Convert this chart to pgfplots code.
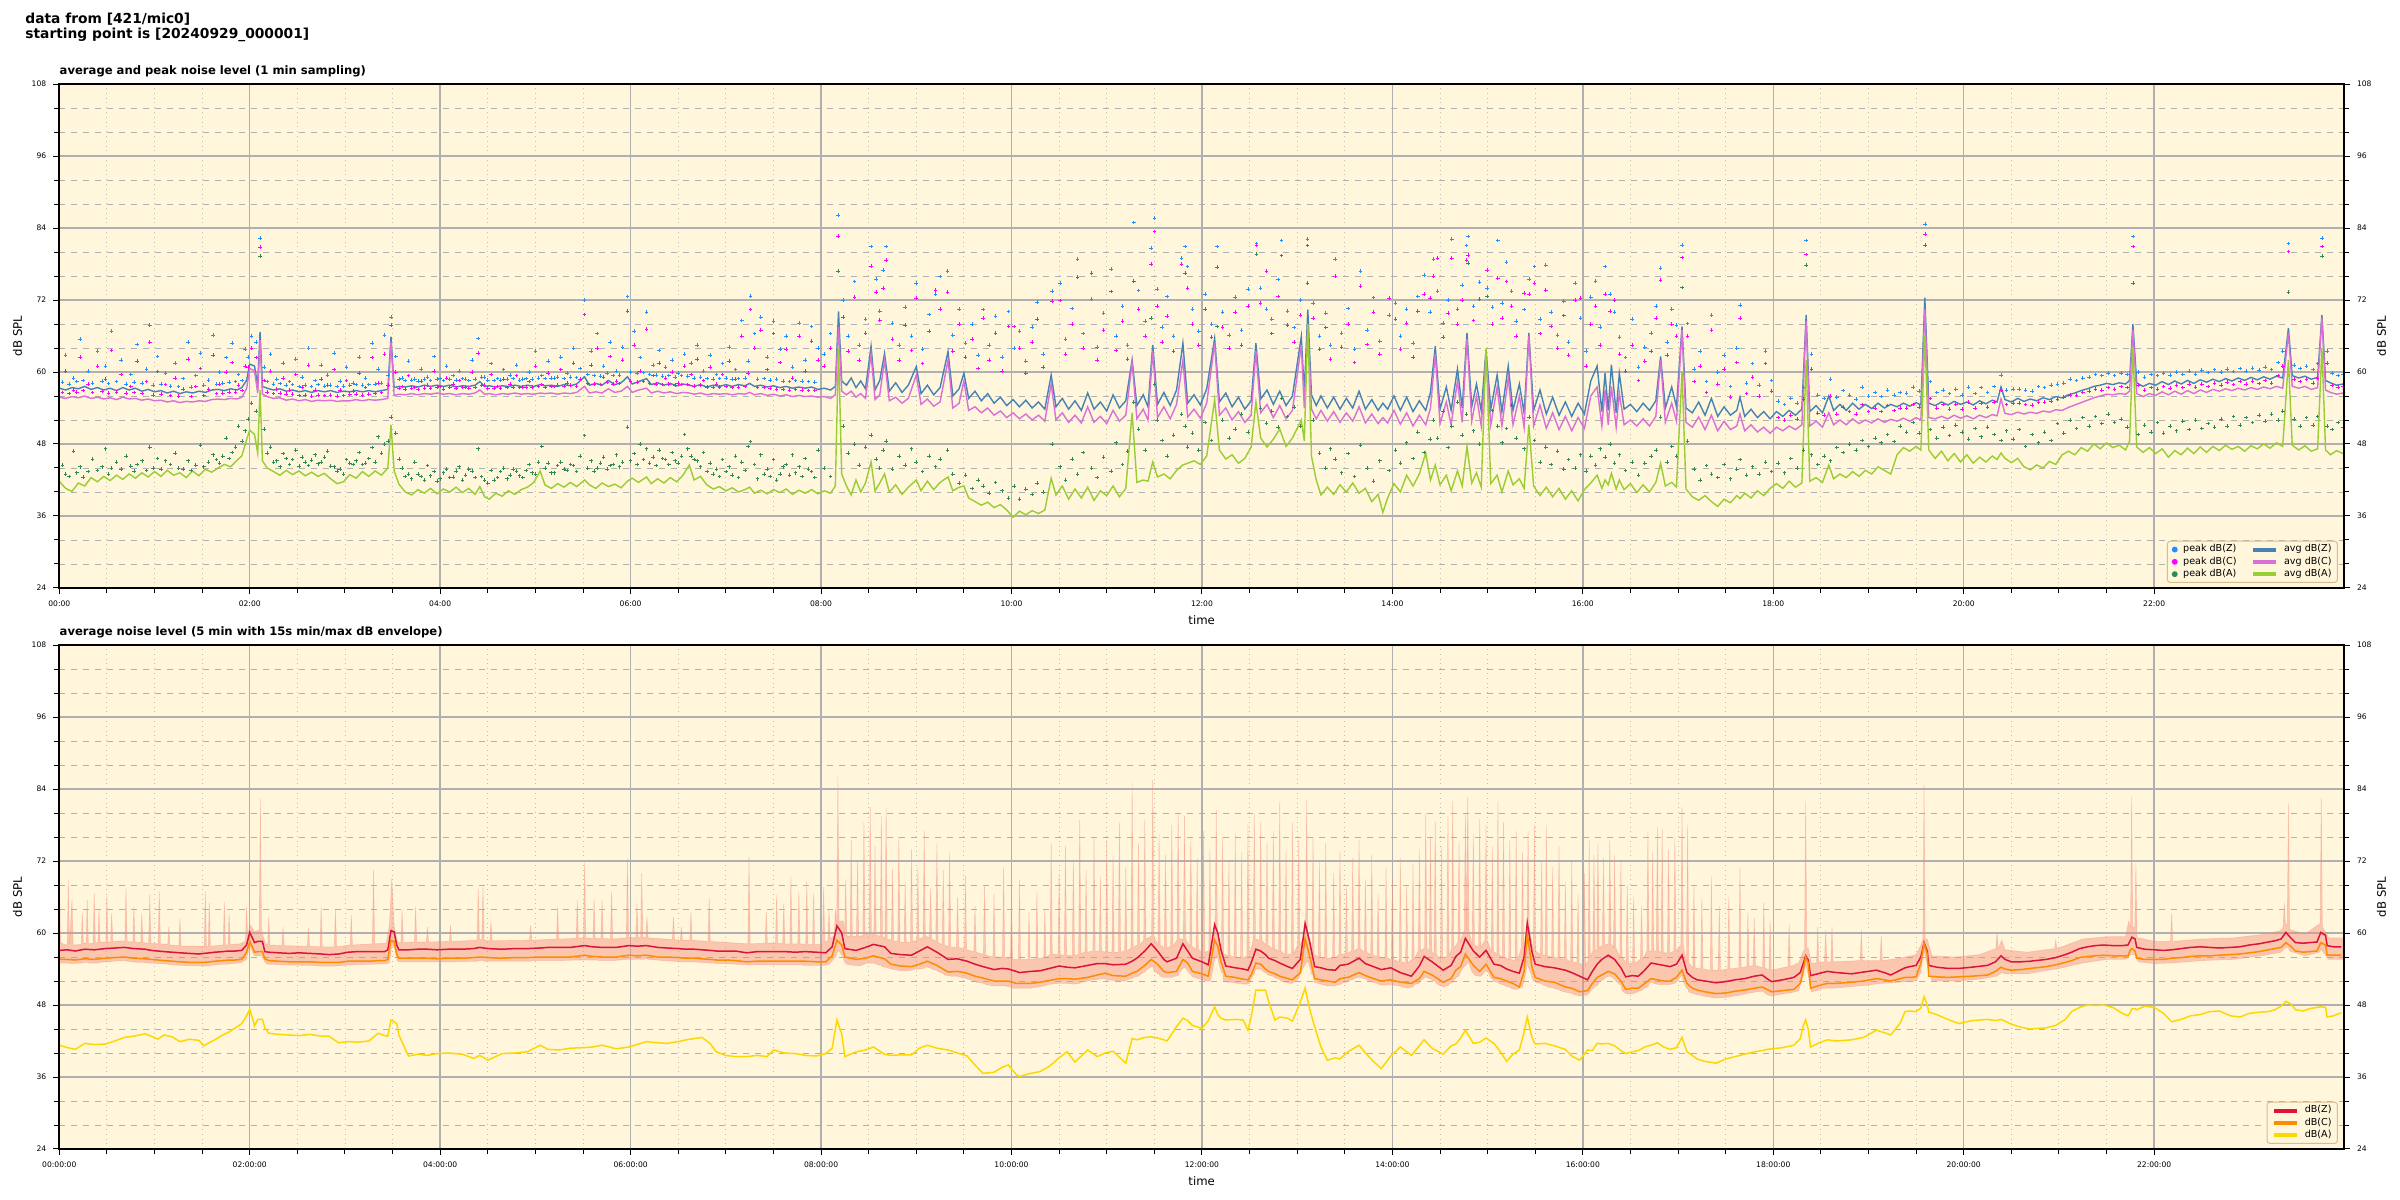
\documentclass[border=0pt]{standalone}
\usepackage{fontspec}
\setmainfont{DejaVu Sans}
\usepackage{pgfplots}
\usepackage{pgfplotstable}
\pgfplotsset{compat=1.18}

\definecolor{bgc}{RGB}{255,246,220}
\definecolor{gridc}{RGB}{176,176,176}
\definecolor{mgridc}{RGB}{195,190,178}
\definecolor{cPZ}{RGB}{30,144,255}
\definecolor{cPC}{RGB}{255,0,255}
\definecolor{cPA}{RGB}{46,139,87}
\definecolor{cAZ}{RGB}{70,130,180}
\definecolor{cAC}{RGB}{218,112,214}
\definecolor{cAA}{RGB}{154,205,50}
\definecolor{cZ}{RGB}{220,20,60}
\definecolor{cC}{RGB}{255,140,0}
\definecolor{cA}{RGB}{255,215,0}
\definecolor{cEnv}{RGB}{245,140,120}
\definecolor{legedge}{RGB}{215,190,140}

% top panel: 1-min average levels (thinned)
\pgfplotstableread{
t z c a
0 57.3 55.8 41.8
4 57.0 55.6 40.6
8 57.4 55.9 40.1
12 57.2 55.7 41.5
16 57.6 56.0 41.0
20 57.1 55.6 42.4
24 57.4 55.8 41.7
28 57.0 55.5 42.6
32 57.3 55.7 41.9
36 56.9 55.4 42.8
40 57.4 55.8 42.1
44 57.0 55.5 43.0
48 57.3 55.6 42.3
52 56.8 55.3 43.2
56 57.1 55.5 42.5
60 56.7 55.2 43.4
64 56.9 55.3 42.6
68 56.5 55.0 43.6
72 56.8 55.2 42.8
76 56.4 54.9 43.2
80 56.7 55.1 42.4
84 56.5 55.0 43.5
88 56.8 55.2 42.7
92 56.6 55.1 43.8
96 57.0 55.4 43.3
100 57.1 55.5 44.0
104 56.9 55.4 44.6
108 57.2 55.6 44.2
112 57.0 55.5 45.3
115 57.4 55.8 46.0
118 58.6 57.2 48.7
120 61.3 60.6 50.3
123 61.0 60.2 49.6
125 57.8 56.5 46.5
126.5 66.7 65.3 57.0
128 57.6 56.3 45.2
131 57.3 55.9 44.0
135 57.0 55.6 43.4
139 57.2 55.7 42.8
143 56.8 55.3 43.6
147 57.0 55.5 42.9
151 56.7 55.2 43.5
155 56.9 55.4 42.7
159 56.6 55.1 43.3
163 56.9 55.3 42.6
167 56.7 55.2 43.1
171 56.9 55.3 42.2
175 56.6 55.1 41.4
179 56.8 55.2 41.7
183 56.7 55.2 42.9
187 56.9 55.4 42.3
191 56.7 55.2 43.4
195 56.9 55.4 42.6
199 56.7 55.3 43.5
203 56.9 55.4 42.8
207 57.1 55.6 44.0
209 65.9 65.0 51.2
211 57.4 56.1 43.5
214 57.6 56.3 41.3
218 57.5 56.2 40.0
222 57.7 56.4 39.5
226 57.5 56.2 40.4
230 57.8 56.4 39.8
234 57.6 56.3 40.6
238 57.8 56.5 39.7
242 57.6 56.3 40.5
246 57.8 56.4 40.0
250 57.5 56.2 40.8
254 57.7 56.4 39.9
258 57.6 56.3 40.6
262 57.8 56.5 39.6
265 58.4 57.0 40.9
268 57.6 56.3 39.2
271 57.7 56.4 38.8
275 57.5 56.2 39.8
279 57.7 56.4 39.3
283 57.6 56.3 40.2
287 57.8 56.5 39.6
291 57.6 56.3 40.4
295 57.8 56.4 40.8
299 57.6 56.3 41.6
303 57.9 56.5 43.5
306 57.7 56.4 41.2
310 57.8 56.5 40.6
314 57.6 56.3 41.4
318 57.9 56.5 40.8
322 57.7 56.4 41.6
326 58.0 56.6 40.9
331 59.2 57.6 42.0
334 57.8 56.5 41.2
338 58.1 56.7 40.6
342 57.8 56.5 41.5
346 58.6 57.2 40.9
350 57.9 56.6 41.3
354 58.2 56.8 40.7
358 59.2 57.6 41.8
361 58.0 56.6 42.3
365 58.4 57.0 41.6
370 58.9 57.3 42.5
373 57.9 56.5 41.4
377 58.2 56.8 42.2
381 57.8 56.5 41.5
385 58.1 56.7 42.4
389 57.7 56.4 41.7
393 58.0 56.6 42.8
397 57.8 56.5 44.5
400 57.6 56.3 42.0
404 57.9 56.5 42.6
408 57.5 56.2 41.2
412 57.8 56.4 40.5
416 57.6 56.3 40.9
420 57.9 56.4 40.2
424 57.6 56.2 40.7
428 57.9 56.4 40.0
432 57.7 56.3 40.4
435 58.1 56.6 40.8
438 57.6 56.2 39.8
442 57.8 56.4 40.3
446 57.5 56.1 39.7
450 57.7 56.3 40.4
454 57.4 56.0 39.9
458 57.6 56.2 40.5
462 57.3 55.9 39.6
466 57.5 56.1 40.3
470 57.3 55.9 39.8
474 57.5 56.0 40.4
478 57.1 55.8 39.7
482 57.3 55.9 40.2
486 57.0 55.6 39.8
489 57.6 56.2 41.0
491 70.1 67.6 64.0
493 58.5 56.8 43.0
496 57.8 56.2 41.0
499 59.0 56.8 39.5
502 57.4 55.8 42.0
505 58.5 56.4 40.0
508 57.2 55.6 41.5
511.5 64.3 63.0 45.0
514 57.0 55.4 40.2
517 58.6 56.2 41.5
520 63.1 62.0 43.0
523 56.8 55.2 40.0
527 58.2 55.8 41.2
531 56.6 54.8 39.6
535 57.8 55.6 40.8
540 60.9 59.5 42.0
543 56.4 54.6 40.2
547 57.8 55.5 41.8
551 56.2 54.3 40.4
555 57.4 55.0 41.6
560 63.4 62.0 42.5
563 56.0 54.0 40.2
567 57.2 54.8 40.8
570 59.8 58.5 41.0
573 55.6 53.6 39.0
577 56.8 54.2 38.4
581 55.2 53.2 37.8
585 56.4 54.0 38.3
589 54.8 52.8 37.4
593 55.8 53.5 37.9
597 54.4 52.4 37.0
601 55.4 53.2 35.8
605 54.2 52.2 36.8
609 55.3 53.0 36.2
613 54.0 52.0 36.9
617 55.0 52.8 36.4
621 53.8 51.8 37.0
625 59.5 58.0 42.3
628 54.2 52.0 39.5
632 55.6 53.2 41.0
636 53.8 51.6 38.8
640 55.2 52.8 40.5
644 53.6 51.5 39.0
648 56.5 54.2 40.8
652 53.8 51.6 38.6
656 55.0 52.6 40.2
660 53.5 51.4 39.4
664 56.2 53.6 41.0
668 54.0 51.8 39.2
672 55.2 52.8 40.6
676 62.0 61.5 53.2
679 54.4 52.2 41.6
683 56.2 53.8 42.0
686 54.2 52.0 41.8
689 64.5 63.5 45.0
692 54.6 52.4 42.5
696 56.6 54.2 43.0
700 54.4 52.2 42.2
704 57.0 54.6 43.6
708 64.8 62.0 44.5
711 54.8 52.5 44.8
715 56.2 53.8 45.2
719 54.5 52.3 44.6
723 57.2 54.8 46.0
728 65.6 64.8 55.4
731 55.0 52.8 47.0
735 56.5 54.0 45.5
739 54.2 52.0 46.2
743 55.8 53.4 44.8
747 53.8 51.6 45.6
751 55.2 52.8 47.5
754 64.8 63.5 55.0
757 55.5 53.2 49.0
761 57.0 54.6 47.5
765 54.6 52.4 48.8
769 56.8 54.4 50.5
773 54.4 52.2 47.6
777 56.0 53.6 49.0
782.6 65.9 64.5 52.0
784.5 56.5 54.0 48.5
786.7 70.4 67.6 68.0
789 56.2 53.8 46.0
792 54.4 52.2 42.0
795 56.0 53.6 39.5
799 54.0 51.8 40.8
803 55.8 53.4 39.6
807 53.8 51.6 41.2
811 55.6 53.2 40.0
815 54.0 51.8 41.5
819 56.8 54.2 39.8
823 53.8 51.5 40.6
827 55.4 53.0 38.4
831 53.6 51.4 39.6
834 54.8 52.4 36.6
837 53.8 51.5 39.0
841 56.0 53.6 41.4
845 53.6 51.3 40.0
849 55.8 53.2 42.8
853 53.4 51.0 41.0
857 55.2 52.8 43.0
861 53.6 51.2 46.5
864 56.6 54.0 42.0
867 64.3 63.0 44.5
870 53.8 51.4 41.2
874 57.5 55.0 42.8
877 53.6 51.2 40.2
881 60.5 58.5 43.5
884 54.0 51.6 41.0
887 66.5 65.5 47.6
890 54.2 51.8 41.5
893 58.0 56.0 43.2
896 53.5 51.0 40.8
899 63.7 62.5 64.0
902 53.8 51.2 41.4
906 59.5 57.5 42.8
909 53.4 51.0 40.0
913 61.0 59.0 43.5
916 53.6 51.2 41.2
920 58.0 56.0 42.2
923 53.2 50.8 40.6
926 66.5 66.0 51.2
929 53.6 51.0 41.0
933 57.0 54.5 39.4
937 53.0 50.6 40.8
941 55.8 53.2 39.2
945 52.8 50.4 40.6
949 55.0 52.6 38.8
953 52.6 50.2 40.2
957 54.8 52.4 38.5
961 53.0 50.6 40.4
965 58.5 56.0 41.5
969 61.0 57.5 42.8
972 53.4 51.0 40.6
974 59.8 57.0 42.0
976 53.6 51.2 41.2
978 61.2 57.6 43.1
981 53.2 50.8 40.5
983 59.8 56.5 42.0
986 53.8 51.2 40.4
990 54.6 52.0 41.4
994 53.4 51.0 39.9
998 54.8 52.2 41.2
1002 53.6 51.0 40.0
1006 55.2 52.6 41.6
1009 62.6 62.0 44.8
1012 54.0 51.6 41.0
1016 57.5 54.8 41.6
1019 54.2 51.8 40.8
1022.5 67.6 67.0 60.0
1025 54.0 51.6 40.5
1029 53.2 50.8 39.2
1033 55.0 52.5 38.6
1037 52.8 50.4 39.4
1041 55.6 52.8 38.4
1045 52.6 50.2 37.6
1049 54.2 51.8 38.8
1053 52.8 50.4 38.2
1057 53.6 51.0 39.4
1059 55.8 53.0 38.9
1062 52.6 50.2 39.8
1066 53.8 51.2 39.0
1070 52.4 50.0 40.2
1074 53.4 50.8 39.4
1078 52.2 49.8 40.6
1082 53.4 50.8 41.4
1086 52.6 50.2 40.6
1090 53.6 51.0 41.8
1094 52.8 50.4 40.8
1098 53.8 51.2 41.5
1100.7 69.5 68.5 62.0
1103 53.4 51.0 41.8
1107 54.4 51.8 42.4
1111 53.2 50.8 41.6
1115 56.0 53.2 44.5
1118 53.6 51.2 42.2
1122 54.6 52.0 43.0
1126 53.6 51.2 42.4
1130 54.8 52.2 43.4
1134 53.8 51.4 42.6
1138 54.6 52.0 43.6
1142 53.9 51.5 43.0
1146 54.8 52.2 44.2
1150 54.0 51.6 43.6
1154 54.6 52.1 43.0
1158 54.2 51.8 46.2
1162 54.8 52.3 47.4
1166 54.3 51.8 46.8
1170 54.9 52.4 47.6
1173 54.5 52.0 47.0
1175.5 72.4 70.5 66.0
1178 54.8 52.4 47.0
1182 54.4 52.2 45.6
1186 55.0 52.6 46.8
1190 54.5 52.2 45.2
1194 55.1 52.8 46.4
1198 54.6 52.3 45.0
1202 55.0 52.7 46.2
1206 54.5 52.2 44.8
1210 55.2 52.8 45.8
1214 54.7 52.4 45.0
1218 55.3 52.9 46.0
1221 55.0 52.7 45.4
1223.5 57.5 55.5 46.5
1226 55.4 53.1 45.6
1230 55.0 52.9 44.9
1234 55.6 53.3 45.6
1238 55.1 53.0 44.2
1242 55.5 53.3 43.7
1246 55.2 53.1 44.5
1250 55.7 53.5 44.0
1254 55.4 53.3 45.1
1258 55.9 53.7 44.6
1262 55.7 53.6 46.2
1266 56.2 54.1 46.8
1270 56.5 54.5 46.2
1274 56.9 54.9 47.4
1278 57.2 55.3 46.8
1282 57.6 55.7 48.0
1286 57.8 56.0 47.2
1290 58.1 56.3 48.2
1294 57.9 56.2 47.4
1298 58.2 56.4 47.8
1302 58.0 56.3 47.0
1304.5 58.6 56.8 48.5
1306.6 68.0 67.0 64.0
1309 58.2 56.4 47.5
1313 57.6 55.9 46.6
1317 58.1 56.4 47.4
1321 57.8 56.1 46.4
1325 58.4 56.7 47.2
1329 57.9 56.2 45.8
1333 58.5 56.8 46.9
1337 58.0 56.3 46.2
1341 58.6 56.9 47.3
1345 58.1 56.4 46.4
1349 58.7 57.0 47.5
1353 58.3 56.6 46.6
1357 58.8 57.1 47.6
1361 58.4 56.8 46.9
1365 58.9 57.2 47.8
1369 58.5 56.9 47.1
1373 59.0 57.3 47.6
1377 58.6 57.0 46.8
1381 59.1 57.4 47.7
1385 58.7 57.1 47.2
1389 59.2 57.5 48.0
1393 58.8 57.2 47.3
1397 59.3 57.6 48.2
1401 59.0 57.3 47.6
1404.6 67.3 66.5 62.0
1407 59.4 57.6 47.8
1411 59.0 57.3 47.0
1415 59.3 57.6 47.7
1419 58.8 57.1 46.8
1423 59.1 57.4 47.2
1425.7 69.5 69.0 64.0
1428 58.6 57.0 47.0
1431 58.2 56.6 46.2
1435 57.8 56.3 46.9
1439 58.0 56.5 46.4
}\topavg

% top panel: 1-min peak levels (subset)
\pgfplotstableread{
t pz pc pa
2 58.3 56.6 44.5
4 62.8 60.2 43.0
6 58.0 56.4 42.6
9 59.0 57.0 46.8
11 58.4 56.7 43.2
13 65.5 62.5 44.2
15 58.6 56.9 42.5
18 60.2 58.0 43.4
21 58.2 56.6 45.5
24 63.5 61.0 43.6
27 58.5 56.8 44.2
29 61.0 58.8 47.2
31 58.1 56.5 43.0
33 66.8 63.6 44.0
36 58.4 56.7 45.0
39 62.0 59.6 43.8
42 58.0 56.5 46.0
45 59.6 57.6 44.3
47 58.3 56.6 43.5
49 64.6 61.8 44.6
52 58.2 56.4 45.2
55 60.5 58.4 43.6
57 67.8 65.0 47.5
59 57.8 56.2 44.0
62 62.6 60.1 45.6
64 58.0 56.3 43.8
67 59.8 57.9 45.2
70 57.7 56.1 44.6
73 61.5 59.0 46.5
75 57.6 56.0 44.0
78 58.9 57.2 43.8
81 65.0 62.2 45.2
83 57.5 55.9 43.6
86 59.4 57.6 44.5
89 63.2 60.6 47.8
91 57.8 56.1 44.2
94 58.7 57.2 45.0
97 66.2 62.8 46.2
99 58.0 56.4 45.4
101 60.0 58.0 44.8
103 58.2 56.5 46.0
105 62.4 60.0 49.0
107 58.3 56.7 45.6
109 64.8 61.6 46.6
111 58.4 56.7 47.5
113 59.6 57.8 51.0
115 58.6 56.9 48.5
117 63.8 61.0 50.2
119 62.5 60.8 52.2
121 66.0 64.0 54.8
124 65.0 62.4 53.5
126.5 82.3 80.8 79.3
129 60.8 58.6 50.5
131 58.4 56.7 46.5
133 63.0 60.2 47.5
135 58.0 56.4 45.0
137 58.8 57.2 45.2
139 58.1 56.5 44.2
141 61.5 59.0 46.4
143 57.8 56.3 45.6
145 58.4 57.0 44.6
147 57.9 56.3 45.4
149 62.2 59.6 47.0
151 57.6 56.1 44.3
153 59.2 57.5 45.8
155 57.8 56.2 45.0
157 64.0 61.2 44.4
159 57.6 56.0 45.3
161 58.6 57.0 46.2
163 57.9 56.2 44.7
165 61.2 58.8 45.0
167 57.7 56.1 45.8
169 59.5 57.8 46.8
171 57.8 56.2 44.3
173 63.2 60.4 44.2
175 57.6 56.0 43.5
177 58.5 57.0 43.8
179 57.7 56.1 43.0
181 60.8 58.6 45.4
183 57.8 56.3 44.8
185 58.2 56.8 44.6
187 57.9 56.3 45.2
189 62.5 59.8 46.6
191 57.8 56.2 44.6
193 59.0 57.4 44.8
195 57.9 56.3 45.6
197 64.8 62.4 47.4
199 58.0 56.4 45.0
201 60.5 58.2 49.2
203 58.2 56.6 46.5
205 66.2 63.0 48.0
207 59.5 57.8 48.5
209 69.2 67.8 52.5
212 62.6 60.0 49.8
214 58.8 57.3 45.5
216 59.0 57.6 44.0
218 58.6 57.2 42.6
220 61.8 59.4 43.0
222 58.7 57.3 42.2
224 58.8 57.4 45.0
226 58.5 57.1 43.0
228 60.5 58.5 42.6
230 58.8 57.3 42.0
232 59.2 57.8 44.4
234 58.6 57.3 42.7
236 62.6 60.2 43.4
238 58.8 57.4 41.8
240 58.9 57.6 42.2
242 58.6 57.2 43.2
244 61.0 59.0 43.8
246 58.8 57.4 42.4
248 59.4 58.0 42.5
250 58.7 57.3 43.5
252 60.2 58.6 44.2
254 58.9 57.5 42.0
256 58.8 57.5 42.8
258 58.6 57.3 43.8
260 62.0 60.0 43.5
262 58.8 57.4 42.4
264 65.6 63.2 47.2
266 59.2 57.8 42.6
268 59.2 57.8 42.0
270 58.7 57.3 41.5
272 61.4 59.6 43.6
274 58.6 57.3 42.0
276 58.9 57.6 42.4
278 58.7 57.3 43.4
280 60.4 58.8 44.0
282 58.8 57.4 42.2
284 59.5 58.0 42.8
286 58.9 57.5 43.8
288 61.2 59.4 43.5
290 58.7 57.4 42.7
292 58.8 57.5 42.4
294 58.9 57.5 43.6
296 60.0 58.4 44.6
298 58.8 57.5 43.2
300 63.5 61.0 43.0
302 59.0 57.6 45.0
304 59.4 57.9 47.6
306 58.9 57.5 44.0
308 61.8 59.8 44.8
310 59.0 57.6 43.2
312 59.0 57.6 43.2
314 59.2 57.8 44.4
316 62.5 60.4 45.0
318 58.9 57.6 43.8
320 59.8 58.2 43.6
322 59.2 57.8 44.6
324 64.0 61.5 44.4
326 59.1 57.7 43.4
328 60.6 58.8 46.0
331 72.0 69.6 49.4
333 59.6 58.2 44.0
335 63.5 61.2 45.2
337 59.4 58.0 43.5
339 66.4 64.0 44.0
341 59.3 57.9 44.8
343 61.0 59.2 45.8
345 59.8 58.3 43.8
347 65.0 62.6 44.4
349 59.4 58.0 44.6
351 60.2 58.5 46.2
353 59.5 58.1 44.2
355 64.2 62.0 45.0
358 72.6 70.2 50.8
360 60.0 58.5 45.2
362 66.8 64.5 46.4
364 59.8 58.3 44.6
366 62.4 60.2 48.0
368 59.9 58.4 45.4
370 70.0 67.2 47.2
372 59.6 58.2 44.8
374 61.2 59.4 45.8
376 59.5 58.0 44.4
378 63.6 61.5 47.0
380 59.3 57.9 45.6
382 60.8 59.0 45.4
384 59.4 58.0 44.6
386 62.0 60.0 46.6
388 59.2 57.8 45.2
390 59.8 58.2 44.8
392 59.4 57.9 46.0
394 63.0 61.0 49.6
396 59.3 57.9 47.2
398 61.5 59.6 46.0
400 59.0 57.7 45.4
402 64.5 62.2 45.2
404 59.2 57.8 44.2
406 60.2 58.6 46.6
408 58.9 57.5 43.4
410 62.8 60.8 44.8
412 58.8 57.4 43.0
414 59.6 58.0 43.8
416 58.9 57.5 42.6
418 61.4 59.6 45.4
420 59.0 57.6 43.4
422 64.2 61.8 44.2
424 58.8 57.4 42.8
426 60.4 58.8 46.0
428 58.9 57.5 42.4
430 68.6 66.0 45.0
432 59.0 57.6 43.6
434 61.8 59.8 47.6
435.5 72.7 70.4 48.4
438 66.4 64.0 44.6
440 58.8 57.4 42.2
442 69.2 67.0 46.2
444 58.9 57.4 43.0
446 62.5 60.4 43.8
448 58.7 57.3 42.6
450 68.5 66.4 45.4
452 58.8 57.2 42.0
454 63.8 61.6 43.0
456 58.5 57.1 44.2
458 66.0 63.8 44.6
460 58.4 57.0 42.8
462 60.8 59.0 46.2
464 58.6 57.1 43.2
466 68.2 66.0 44.2
468 58.5 57.0 42.6
470 62.0 60.2 45.6
472 58.4 56.9 43.8
474 67.6 65.2 43.4
476 58.3 56.9 42.4
478 64.0 62.0 47.0
482 63.0 61.0 44.0
486 66.4 64.0 42.6
490.6 86.2 82.7 76.8
494 72.0 69.2 51.0
497 66.0 63.5 46.5
501 75.1 72.5 48.0
504 64.5 62.0 44.5
508 68.8 66.5 47.5
511.5 80.9 77.7 49.5
514.7 75.5 73.3 45.5
517 70.2 68.7 44.0
519 77.0 74.0 47.0
521 80.9 78.7 48.5
525 68.2 65.5 43.8
529 64.5 62.0 46.0
533 70.8 67.8 44.5
537 66.0 63.6 47.2
540 74.8 72.3 45.0
544 63.8 61.4 43.4
548 69.6 66.8 46.0
552 73.0 73.7 44.2
555 75.9 70.5 45.5
559.7 76.8 73.3 47.0
563 66.2 63.5 43.0
567 70.5 68.0 41.5
571 64.8 62.5 42.8
575 68.0 65.5 40.6
579 62.8 60.6 42.0
582 70.4 69.0 41.0
586 64.5 62.0 39.8
590 69.3 66.5 41.6
594 62.5 60.2 40.2
598 70.1 67.6 39.0
601.5 64.0 67.6 41.0
605 66.8 64.0 38.8
609 61.8 59.8 40.5
613 67.5 65.0 39.6
616 71.7 68.8 41.5
620 63.0 60.8 40.0
625.6 73.5 71.8 48.0
630.5 74.8 71.9 44.2
634 65.5 63.0 42.0
638 70.6 68.0 45.5
641.7 78.8 75.8 43.0
645 66.4 64.0 46.6
650.4 72.2 76.5 44.0
654 64.2 62.0 42.4
658 69.8 67.0 45.8
662.6 77.2 73.4 43.5
666 66.0 63.6 48.2
670 71.0 68.5 44.6
673 64.5 62.2 46.8
677 84.9 75.2 55.0
680 73.6 70.5 50.5
684 68.5 66.0 47.0
688 80.7 78.0 69.0
690 85.7 83.4 58.0
691.6 73.8 71.0 52.0
695 67.5 65.0 48.6
698 72.6 69.3 46.0
702 66.0 63.5 49.5
707 79.0 78.0 53.0
709.3 80.9 76.5 51.0
711 77.6 74.0 47.5
714 70.5 68.0 49.8
718 66.8 64.5 47.0
722 73.0 70.5 51.6
726 68.0 65.8 48.6
729.5 80.9 77.5 67.6
733 70.0 67.5 52.0
737 66.2 64.0 49.0
741 72.5 70.0 50.5
745 67.0 64.5 53.0
749 73.8 71.0 50.0
754.3 81.4 81.1 79.7
757 74.0 71.5 54.0
760.7 70.5 76.8 51.5
764 68.8 66.4 53.5
768 75.4 72.6 50.8
770 81.9 79.4 55.6
774 70.2 67.8 52.6
778 67.4 65.0 54.2
782 72.0 69.5 51.0
786.4 82.2 81.1 74.8
790 71.5 69.0 52.0
794 66.0 63.8 46.5
798 69.8 67.4 44.0
801 64.5 62.2 47.2
804 78.8 76.0 45.5
808 66.5 64.2 43.2
812 70.6 68.0 46.4
816 63.8 61.6 42.6
820 76.8 74.3 47.8
824 67.0 64.6 44.0
828 72.4 70.0 41.8
832 65.2 63.0 45.2
838 69.5 72.3 43.6
842 71.5 68.8 47.0
845 66.0 63.8 44.8
849 70.5 68.2 48.2
853 64.8 62.5 45.6
856 72.6 70.2 50.0
860 76.2 73.0 46.6
863.6 70.0 72.3 48.8
865.9 78.8 76.0 52.0
868.4 73.5 79.0 49.0
872 68.2 65.8 53.5
875 72.0 69.8 47.4
877.4 82.2 79.0 51.0
881 70.5 68.0 55.0
884 74.5 72.0 49.5
886.8 81.1 78.7 53.0
887.7 82.6 79.5 78.2
891 71.0 68.6 50.2
895 75.0 72.2 48.0
899.6 74.0 77.0 72.6
903 70.8 68.0 53.6
906.4 81.9 75.7 51.0
909 71.5 69.0 48.2
911.8 78.3 75.1 50.6
915 73.5 71.0 54.5
918 68.5 66.0 49.0
923 70.4 73.2 47.2
926 75.5 73.0 52.5
929.5 77.6 74.8 48.6
933 68.8 66.4 45.0
936.6 77.8 73.7 47.5
940 70.0 67.6 44.6
944 66.2 64.0 46.8
948 71.8 69.4 43.8
951 65.0 62.8 45.4
955 74.8 72.0 44.0
958.5 69.0 72.3 46.2
962 63.5 61.0 43.5
965 72.5 68.0 46.0
968 75.2 71.0 44.5
971 67.5 64.5 47.2
974 77.6 73.0 45.8
977 73.0 70.2 48.0
980 70.0 72.0 44.8
983 65.8 63.0 46.2
987 62.4 60.2 43.6
991 68.8 64.5 45.0
995 60.8 58.6 42.8
999 64.2 61.8 44.8
1003 66.5 63.5 46.0
1006 71.0 69.0 47.0
1009 77.3 75.3 52.5
1013 65.0 62.8 45.0
1016 70.5 68.0 47.6
1019 67.8 66.0 46.0
1022.5 81.2 79.1 74.1
1026 68.1 66.0 48.5
1030 60.5 58.4 43.8
1034 63.5 61.0 42.0
1038 58.4 56.6 44.4
1041 69.5 67.0 43.0
1045 60.0 58.0 42.4
1049 62.8 60.5 44.6
1053 57.6 55.8 42.2
1057 64.0 61.6 43.8
1059 71.2 69.0 45.4
1063 58.2 56.4 42.8
1067 61.4 59.2 44.2
1071 57.8 56.0 43.0
1075 63.5 61.4 45.0
1079 58.6 56.8 43.4
1083 55.2 52.4 44.8
1087 54.6 52.0 43.2
1091 55.6 52.8 45.6
1095 54.8 52.2 44.0
1099 57.5 55.5 47.0
1100.7 81.9 79.6 77.8
1104 63.0 60.5 46.2
1108 56.2 53.2 44.6
1112 55.6 52.8 46.0
1116 58.8 56.0 45.2
1120 55.8 53.0 47.4
1124 56.9 54.2 46.6
1128 56.2 53.4 48.0
1132 55.5 53.0 47.0
1136 57.5 54.6 48.6
1140 56.0 53.4 47.6
1144 56.6 54.0 49.0
1148 55.9 53.4 48.2
1152 57.0 54.4 49.6
1156 56.2 53.6 48.4
1160 56.6 54.0 51.0
1164 56.5 54.0 50.0
1168 57.5 54.6 51.6
1172 56.8 54.2 49.8
1175.5 84.7 83.0 81.2
1179 58.4 55.6 50.4
1183 56.6 54.0 49.0
1187 57.0 54.6 50.8
1191 56.4 53.8 49.4
1195 57.2 54.6 51.2
1199 56.2 53.8 50.0
1203 57.5 55.0 48.8
1207 56.4 54.0 50.6
1211 57.4 54.8 49.2
1215 56.6 54.2 50.8
1219 57.6 55.0 49.6
1223.5 59.5 57.0 48.6
1227 57.0 54.6 50.2
1231 57.2 54.8 48.8
1235 57.2 54.8 50.4
1239 57.0 54.6 47.6
1243 56.8 54.5 49.6
1247 57.6 55.0 48.2
1251 57.4 55.0 50.0
1255 57.8 55.2 48.6
1259 58.0 55.5 51.4
1263 58.2 55.8 49.8
1267 58.8 56.2 52.0
1271 58.6 56.2 50.6
1275 59.0 56.6 52.4
1279 59.2 56.8 51.0
1283 59.6 57.2 52.6
1287 59.4 57.0 51.4
1291 59.8 57.4 53.0
1295 59.4 57.2 51.6
1299 59.8 57.6 52.2
1303 59.6 57.4 50.8
1306.6 82.6 80.9 74.8
1310 60.0 57.8 49.6
1314 59.2 57.0 51.2
1318 59.6 57.4 50.0
1322 59.4 57.2 51.6
1326 59.8 57.6 49.8
1330 59.5 57.3 51.0
1334 60.0 57.8 50.2
1338 59.6 57.4 51.8
1342 60.2 58.0 50.4
1346 59.7 57.5 52.0
1350 60.3 58.0 50.6
1354 59.9 57.6 51.4
1358 60.4 58.2 50.8
1362 60.0 57.8 52.2
1366 60.5 58.3 51.0
1370 60.1 57.9 52.6
1374 60.6 58.4 51.2
1378 60.2 58.0 52.4
1382 60.7 58.5 51.6
1386 60.3 58.1 52.8
1390 60.8 58.6 51.8
1394 60.4 58.2 53.0
1398 61.6 59.4 52.0
1401 63.5 61.0 53.5
1404.6 81.4 80.1 73.3
1408 61.2 58.8 52.2
1412 60.6 58.4 51.0
1416 61.0 58.8 52.4
1420 60.4 58.2 51.2
1423 61.4 59.0 52.6
1425.7 82.3 80.9 79.3
1429 63.5 61.5 51.0
1432 59.8 57.8 50.4
1436 59.4 57.5 51.6
1439 59.6 57.6 50.8
}\peaks

% bottom panel: 5-min averages
\pgfplotstableread{
t z c a
0 57.1 55.6 41.3
5 57.2 55.6 40.9
10 57.0 55.5 40.6
16 57.3 55.7 41.6
22 57.2 55.6 41.4
29 57.4 55.8 41.5
35 57.5 55.9 42.0
41 57.6 56.0 42.6
47 57.4 55.8 42.8
54 57.3 55.7 43.2
58 57.1 55.6 42.8
62 57.0 55.5 42.3
66 56.9 55.4 43.0
71 56.8 55.3 42.7
76 56.7 55.2 41.9
82 56.6 55.1 42.3
88 56.5 55.1 42.1
91 56.6 55.1 41.2
95 56.7 55.2 41.8
98 56.8 55.3 42.2
103 56.9 55.4 43.0
107 57.0 55.5 43.5
111 57.0 55.5 44.2
115 57.1 55.6 44.9
118 58.0 56.8 46.2
120 60.1 58.6 47.3
122 59.0 57.5 45.6
123 58.4 56.8 44.5
125 58.6 56.9 45.6
128 58.6 56.9 45.6
129.5 56.9 55.7 44.2
132 56.8 55.4 43.3
138 56.7 55.3 43.1
145 56.6 55.2 43.0
151 56.7 55.2 42.9
158 56.6 55.2 43.1
165 56.5 55.1 42.8
170 56.4 55.1 42.8
176 56.5 55.1 41.7
182 56.8 55.3 41.9
188 56.9 55.3 41.8
195 56.9 55.3 42.0
201 56.9 55.4 43.3
205 56.9 55.4 42.9
207 57.2 55.6 42.8
209 60.4 58.8 45.5
211 60.2 58.6 45.2
212.6 58.0 56.5 44.9
214 57.2 55.8 43.0
220 57.2 55.8 39.5
226 57.3 55.8 39.8
232 57.3 55.8 39.6
238 57.2 55.7 39.9
245 57.3 55.8 40.0
254 57.3 55.8 39.8
261 57.4 55.9 39.1
265 57.6 56.0 39.6
270 57.4 55.9 38.8
279 57.3 55.8 39.9
287 57.4 55.9 40.0
295 57.4 55.9 40.2
303 57.5 56.0 41.3
308 57.6 56.0 40.6
315 57.6 56.0 40.5
322 57.6 56.0 40.8
331 57.9 56.3 40.9
336 57.7 56.1 41.0
342 57.6 56.0 41.3
351 57.6 56.0 40.7
359 57.9 56.3 41.0
364 57.8 56.2 41.4
370 57.9 56.3 41.9
377 57.6 56.0 41.7
383 57.5 56.0 41.6
390 57.4 55.9 41.9
395 57.3 55.8 42.2
400 57.3 55.8 42.4
405 57.2 55.7 42.6
410 57.1 55.6 41.6
414 57.0 55.5 40.2
420 57.0 55.5 39.6
426 57.0 55.4 39.4
433 56.7 55.2 39.4
440 56.9 55.3 39.6
446 56.9 55.3 39.4
450 56.9 55.3 40.5
457 56.9 55.3 40.0
464 56.8 55.3 39.9
470 56.9 55.3 39.6
477 56.8 55.2 39.5
483 56.7 55.2 39.9
487 57.7 56.2 40.8
490 61.2 58.8 45.5
493 60.0 58.0 43.2
495 57.4 56.0 39.4
502 57.1 55.6 40.2
508 57.6 55.8 40.5
513 58.1 56.2 41.0
520 57.7 55.7 39.8
524 56.6 54.8 39.6
530 56.4 54.5 39.7
537 56.3 54.4 39.7
542 57.0 54.8 40.8
547 57.7 55.3 41.3
553 56.8 54.6 40.8
560 55.6 53.5 40.5
566 55.7 53.6 40.0
572 55.3 53.3 39.5
577 54.8 52.8 38.0
582 54.4 52.5 36.6
589 53.9 52.0 36.8
594 54.1 52.0 37.6
598 54.0 52.0 38.0
603 53.6 51.6 36.4
605 53.4 51.6 36.1
612 53.6 51.6 36.6
618 53.7 51.8 36.9
624 54.1 52.1 37.8
630 54.5 52.4 39.2
635 54.3 52.4 40.2
640 54.2 52.3 38.5
648 54.6 52.6 40.5
654 54.9 53.0 39.4
659 54.9 53.3 40.0
664 54.7 52.9 40.3
672 54.8 52.8 38.3
676 55.3 53.3 42.4
679 55.8 53.6 42.2
684 57.0 54.6 42.6
688 58.2 55.6 42.7
692 57.0 54.8 42.5
696 55.6 53.6 42.2
698 55.2 53.4 42.0
704 55.8 53.6 44.4
708 58.2 55.6 45.8
711 57.0 55.0 45.4
714 55.8 53.6 44.6
720 55.2 53.2 44.1
724 54.7 52.8 45.4
728 61.4 58.8 47.7
730 60.0 57.8 46.4
732 57.2 55.2 45.8
735 54.5 52.8 45.5
741 54.2 52.6 45.6
746 54.0 52.3 45.5
749 53.8 52.2 43.8
751 55.0 53.0 46.0
754 57.3 55.0 50.5
757 57.0 54.8 50.5
760 56.4 54.0 50.5
762 55.8 53.6 48.6
766 55.4 53.2 45.5
769 55.0 52.8 46.0
774 54.4 52.4 45.8
777 54.1 52.2 45.3
782 55.6 53.4 48.5
785 61.6 59.1 50.8
788 58.4 56.0 47.2
791 54.4 52.4 44.4
795 54.2 52.2 41.0
799 53.9 52.0 38.8
804 53.8 51.8 39.2
807 54.6 52.4 39.0
812 54.8 52.6 40.2
819 55.8 53.4 41.3
823 54.9 52.9 40.0
828 54.4 52.4 38.6
833 53.9 52.0 37.4
839 54.2 52.2 39.5
845 53.4 51.8 41.0
852 52.8 51.6 39.6
857 54.5 52.4 41.2
860 56.1 53.6 42.2
865 55.2 53.0 40.8
872 53.8 51.8 39.8
877 54.6 52.4 41.2
880 56.1 53.8 41.5
883 56.8 54.4 42.5
886 59.1 56.5 43.8
891 57.0 54.6 41.6
895 56.0 53.6 41.8
899 57.1 54.8 42.5
904 54.8 52.6 41.6
908 54.6 52.4 40.2
912 54.0 52.0 38.6
916 53.6 51.6 39.8
920 53.3 51.0 40.5
923 56.0 53.6 43.5
925 61.7 59.8 46.0
928 56.8 54.2 42.5
930 54.8 52.6 41.5
936 54.4 52.0 41.6
942 54.2 51.8 41.2
949 53.8 51.0 40.6
953 53.4 50.8 39.5
958 52.8 50.2 38.8
963 52.2 50.4 40.5
966 53.6 51.6 40.4
969 54.8 52.6 41.6
972 55.6 53.0 41.5
976 56.3 53.6 41.6
980 55.6 53.2 41.2
984 54.2 52.0 40.4
987 52.7 50.6 39.9
991 52.9 50.8 40.2
995 52.8 50.8 40.4
999 53.8 51.6 41.0
1003 55.0 52.4 41.3
1007 54.8 52.2 41.7
1011 54.6 52.0 41.0
1015 54.4 52.0 40.6
1019 54.8 52.6 40.9
1022.5 56.3 53.8 42.6
1025.6 53.4 51.6 40.2
1029 52.6 50.8 39.6
1032 52.2 50.5 39.0
1037 52.0 50.2 38.6
1044 51.7 49.9 38.3
1050 51.9 50.0 39.0
1056 52.2 50.3 39.4
1062 52.4 50.5 39.8
1068 52.8 50.8 40.2
1073 53.0 51.0 40.4
1076 52.4 50.6 40.6
1079 51.9 50.2 40.7
1086 52.2 50.4 40.9
1093 52.6 50.6 41.3
1097 53.4 51.6 42.4
1099 55.0 54.0 44.6
1100.4 56.2 56.0 45.5
1102 55.5 55.0 44.0
1103.5 52.9 50.8 41.0
1108 53.2 51.2 41.6
1114 53.6 51.6 42.2
1120 53.4 51.6 42.0
1129.5 53.2 51.8 42.2
1137 53.5 52.0 42.6
1145 53.8 52.4 43.8
1150 53.4 52.2 43.4
1154 53.0 52.0 43.0
1160 53.8 52.4 45.0
1163 54.2 52.6 46.9
1166 54.4 52.6 47.0
1170 54.6 52.7 46.9
1173 56.0 55.0 47.5
1175 58.4 58.3 49.4
1177 57.0 56.5 48.0
1178 54.6 52.8 46.8
1183 54.3 52.7 46.4
1190 54.1 52.6 45.6
1197 54.1 52.7 44.9
1205 54.3 52.8 45.4
1215 54.6 53.0 45.6
1220 55.2 53.6 45.4
1223.5 56.2 54.3 45.6
1226 55.6 54.0 45.3
1230 55.2 53.8 44.8
1236 55.2 53.9 44.3
1242 55.3 54.1 44.0
1252 55.6 54.4 44.2
1258 55.9 54.7 44.6
1264 56.4 55.1 45.6
1268 56.8 55.4 46.9
1273 57.4 55.9 47.6
1278 57.7 56.1 48.0
1283 57.9 56.2 47.9
1288 58.0 56.3 48.0
1294 57.9 56.2 47.6
1300 57.9 56.2 46.6
1303.5 58.0 56.2 46.2
1305 58.8 57.2 46.8
1306 59.3 57.4 47.4
1308 59.0 57.0 47.4
1309 57.6 55.8 47.2
1314 57.3 55.6 47.8
1320 57.2 55.6 47.6
1326 57.1 55.6 46.6
1331 57.2 55.8 45.2
1337 57.4 55.9 45.6
1343 57.6 56.1 46.2
1349 57.7 56.2 46.4
1355 57.6 56.2 46.9
1361 57.5 56.3 47.0
1368 57.6 56.4 46.2
1374 57.7 56.5 46.0
1380 58.0 56.7 46.6
1386 58.2 56.9 46.8
1392 58.5 57.2 46.9
1396 58.7 57.4 47.2
1400 59.0 57.6 47.8
1403 60.1 58.4 48.6
1406 59.2 57.8 48.2
1409 58.4 57.0 47.2
1414 58.3 56.8 47.0
1418 58.4 56.9 47.4
1422.6 58.5 57.0 47.6
1425 60.1 58.4 47.7
1428 59.6 58.0 47.6
1429 57.9 56.3 46.0
1433 57.7 56.3 46.2
1438 57.7 56.3 46.7
}\botavg

% bottom panel: 15 s min/max envelope
\pgfplotstableread{
t hi lo
0 69.9 54.9
0.8 58.4 55.0
4 58.0 55.0
5.0 58.1 55.0
5.7 68.8 55.0
6.4 58.2 54.9
8 65.5 54.9
8.7 58.0 54.9
13.8 58.1 55.0
14.5 63.3 55.0
15.2 58.3 55.1
16.9 58.3 55.1
17.6 65.5 55.1
18.3 58.2 55.0
21.3 58.3 55.0
22 66.6 55.0
22.7 58.4 55.0
24.3 58.4 55.0
25 63.8 55.1
25.7 58.5 55.1
29.3 58.5 55.2
30 66.3 55.2
30.7 58.5 55.2
32.3 58.5 55.2
33 63.3 55.2
33.7 58.6 55.3
41.3 58.7 55.4
42 67.4 55.4
42.7 58.6 55.3
46.3 58.5 55.2
47 64.4 55.2
47.7 58.5 55.1
51.3 58.4 55.1
52 63.3 55.1
52.7 58.4 55.1
56.3 58.3 55.0
57 66.3 55.0
57.7 58.3 55.0
62.3 58.2 54.9
63 66.9 54.9
63.7 58.2 54.9
68.3 58.1 54.8
69 61.0 54.8
69.7 58.0 54.7
75.3 57.9 54.6
76 62.4 54.6
76.7 57.8 54.6
91.3 57.8 54.5
92 66.9 54.5
92.7 57.8 54.5
93.8 57.8 54.5
94.5 65.0 54.5
95.2 57.8 54.6
103.3 58.0 54.8
104 65.2 54.8
104.7 58.0 54.8
106.3 58.0 54.8
107 63.3 54.8
107.7 58.1 54.9
114 58.2 55.0
117.3 58.6 55.5
118 64.4 55.8
118.7 59.2 56.5
120 61.5 57.8
123 60.2 56.2
126 60.5 56.2
126.7 82.4 56.2
127.4 60.2 56.2
130 58.2 55.0
131.3 58.0 54.8
132 62.7 54.8
132.7 58.0 54.8
140.3 57.9 54.7
141 61.0 54.7
141.7 57.9 54.7
156.3 57.8 54.6
157 60.8 54.6
157.7 57.8 54.6
164.3 57.7 54.5
165 64.4 54.5
165.7 57.7 54.5
173.3 57.7 54.5
174 63.8 54.5
174.7 57.7 54.5
183.3 58.0 54.7
184 63.0 54.7
184.7 58.0 54.7
197.3 58.2 54.8
198 70.5 54.8
198.7 58.2 54.8
206 58.3 54.9
208 61.2 55.0
209.5 69.1 57.8
211 61.2 57.8
213 58.5 55.3
215.3 58.4 55.2
216 63.8 55.2
216.7 58.4 55.2
223.8 58.5 55.2
224.5 64.4 55.2
225.2 58.5 55.2
231.3 58.5 55.2
232 61.0 55.2
232.7 58.5 55.2
245.8 58.6 55.2
246.5 61.3 55.2
247.2 58.6 55.2
263.3 58.8 55.3
264 67.4 55.3
264.7 58.9 55.4
266.3 58.9 55.4
267 67.7 55.4
267.7 58.8 55.3
271.3 58.7 55.3
272 62.0 55.3
272.7 58.7 55.3
296.3 58.8 55.3
297 61.3 55.3
297.7 58.8 55.4
313.3 59.0 55.4
314 64.4 55.4
314.7 59.0 55.4
325.7 59.1 55.5
326.4 65.5 55.5
327.1 59.1 55.5
330.3 59.2 55.5
331 71.9 55.6
331.7 59.2 55.5
336.3 59.1 55.5
337 65.8 55.5
337.7 59.1 55.5
341.3 59.1 55.4
342 65.5 55.4
342.7 59.1 55.4
347.3 59.0 55.4
348 66.9 55.4
348.7 59.0 55.4
357.3 59.2 55.6
358 72.4 55.6
358.7 59.3 55.6
363.3 59.2 55.6
364 64.9 55.6
364.7 59.2 55.6
366.3 59.3 55.6
367 70.0 55.6
367.7 59.3 55.6
369.6 59.2 55.7
370.3 62.7 55.7
371 59.2 55.6
386.3 58.9 55.3
387 62.7 55.3
387.7 58.9 55.3
391.3 58.8 55.2
392 61.0 55.2
392.7 58.8 55.2
397.3 58.8 55.2
398 63.5 55.2
398.7 58.8 55.2
408.8 58.6 55.0
409.5 65.8 55.0
410.2 58.6 55.0
433.9 58.2 54.7
434.6 72.7 54.7
435.3 58.2 54.7
444.8 58.3 54.7
445.5 63.5 54.7
446.2 58.3 54.7
451.3 58.3 54.7
452 66.3 54.7
452.7 58.3 54.7
455.8 58.2 54.7
456.5 64.9 54.7
457.2 58.2 54.7
460.3 58.2 54.7
461 69.4 54.7
461.7 58.2 54.7
465.3 58.2 54.7
466 66.9 54.7
466.7 58.2 54.7
470.3 58.1 54.6
471 68.6 54.6
471.7 58.1 54.6
474.6 58.1 54.6
475.3 66.6 54.6
476 58.1 54.6
480.9 58.1 54.6
481.6 67.7 54.6
482.3 58.5 54.6
484.3 58.7 54.8
485 63.8 54.8
485.7 59.0 55.0
488.3 59.6 55.8
489 64.0 56.0
489.9 61.0 56.6
490.6 86.0 57.0
491.3 62.0 57.0
494 62.0 56.0
494.8 59.6 55.2
495.5 69.0 55.0
496.2 59.5 54.8
498.3 59.5 54.7
499 75.5 54.7
499.7 59.5 54.6
502.3 59.4 54.6
503 72.0 54.6
503.7 59.4 54.5
506.3 59.6 54.7
507 78.5 54.8
507.7 59.8 54.9
510.3 59.9 55.0
511 81.0 55.0
511.7 60.0 55.0
513.3 59.8 55.0
514 74.5 55.0
514.7 59.6 54.8
517.3 59.5 54.6
518 79.5 54.6
518.7 59.4 54.4
520.3 59.2 54.3
521 81.0 54.3
521.7 59.0 54.2
524.3 58.8 54.0
525 70.6 54.0
525.7 58.7 53.9
528.3 58.6 53.8
529 76.0 53.8
529.7 58.5 53.7
532.3 58.4 53.7
533 68.5 53.7
533.7 58.4 53.7
536.3 58.5 53.8
537 74.0 53.8
537.7 58.6 53.9
540.3 58.8 54.0
541 71.0 54.0
541.7 59.0 54.0
544.3 59.3 54.1
545 77.0 54.1
545.7 59.5 54.4
548.3 59.2 54.2
549 67.5 54.2
549.7 59.0 54.0
552.3 58.6 53.8
553 75.0 53.8
553.7 58.4 53.6
556.3 58.1 53.3
557 70.5 53.3
557.7 58.0 53.0
560.3 57.7 52.9
561 73.5 52.9
561.7 57.6 52.8
565.3 57.6 52.8
566 66.0 52.8
566.7 57.6 52.7
570.3 57.3 52.5
571 69.5 52.5
571.7 57.2 52.4
576.3 56.9 52.0
577 64.5 52.0
577.7 56.8 51.8
582.3 56.4 51.6
583 68.0 51.6
583.7 56.3 51.4
588.3 56.0 51.2
589 66.5 51.2
589.7 56.0 51.2
594.3 56.0 51.2
595 71.0 51.2
595.7 56.0 51.2
599.3 55.7 51.0
600 65.5 51.0
600.7 55.6 50.8
604.3 55.6 50.8
605 68.8 50.8
605.7 55.6 50.8
610.3 55.6 50.8
611 63.5 50.8
611.7 55.6 50.8
615.3 55.7 51.0
616 67.0 51.0
616.7 55.7 51.0
620.3 55.9 51.2
621 64.0 51.2
621.7 56.0 51.3
624.3 56.4 51.5
625 75.0 51.5
625.7 56.5 51.5
629.3 56.4 51.6
630 70.0 51.6
630.7 56.4 51.6
633.3 56.3 51.6
634 74.5 51.6
634.7 56.3 51.6
638.3 56.2 51.5
639 72.2 51.5
639.7 56.2 51.5
642.3 56.5 51.6
643 78.8 51.6
643.7 56.6 51.8
646.3 56.8 51.9
647 70.5 51.9
647.7 56.8 52.0
651.3 57.0 52.2
652 76.0 52.2
652.7 57.0 52.2
655.3 57.0 52.3
656 69.5 52.3
656.7 57.0 52.4
659.3 56.8 52.3
660 75.5 52.3
660.7 56.8 52.2
663.3 56.8 52.1
664 73.0 52.1
664.7 56.8 52.1
667.3 56.8 52.0
668 78.5 52.0
668.7 56.8 52.0
671.3 57.0 52.0
672 71.0 52.0
672.7 57.0 52.2
675.3 57.5 52.4
676 85.0 52.4
676.7 57.6 52.6
679.3 58.0 52.8
680 75.0 52.8
680.7 58.0 53.0
683.3 58.8 53.5
684 79.0 53.5
684.7 59.0 53.8
688.3 59.5 54.4
689 85.5 54.5
689.7 59.5 53.8
692.3 58.0 53.2
693 76.5 53.2
693.7 58.0 52.8
696.3 57.5 52.6
697 73.0 52.6
697.7 57.5 52.6
700.3 57.8 52.6
701 78.0 52.6
701.7 57.8 52.7
704.3 58.8 52.9
705 80.0 52.9
705.7 59.0 53.4
708.3 59.0 54.2
709 79.5 54.2
709.7 59.0 54.2
712.3 57.8 53.2
713 76.0 53.2
713.7 57.8 52.8
716.3 57.2 52.5
717 72.5 52.5
717.7 57.2 52.4
720.3 56.8 52.2
721 77.0 52.2
721.7 56.8 52.0
724.3 57.0 52.0
725 74.0 52.0
725.7 57.0 52.4
728.3 60.5 56.0
729 80.5 56.0
729.7 60.5 56.0
732.3 56.5 53.4
733 76.0 53.4
733.7 56.5 52.0
736.3 56.2 51.8
737 72.0 51.8
737.7 56.2 51.8
740.3 56.0 51.7
741 76.5 51.7
741.7 56.0 51.6
744.3 55.8 51.6
745 73.5 51.6
745.7 55.8 51.5
748.3 56.2 51.5
749 78.0 51.5
749.7 56.2 51.6
752.3 58.8 53.0
753 80.0 53.0
753.7 59.0 54.0
756.3 58.8 54.0
757 78.5 54.0
757.7 58.8 53.8
760.3 58.0 53.3
761 75.0 53.3
761.7 58.0 53.0
764.3 57.4 52.8
765 77.0 52.8
765.7 57.4 52.6
768.3 57.0 52.3
769 81.9 52.3
769.7 57.0 52.0
772.3 56.4 51.8
773 74.0 51.8
773.7 56.4 51.7
776.3 56.5 51.6
777 78.5 51.6
777.7 56.5 51.8
780.3 58.0 52.4
781 75.5 52.4
781.7 58.0 53.0
785.3 60.0 55.0
786 82.2 55.0
786.7 60.0 55.5
789.3 56.4 53.0
790 76.0 53.0
790.7 56.4 51.8
793.3 56.0 51.6
794 72.0 51.6
794.7 56.0 51.5
797.3 55.8 51.3
798 75.0 51.3
798.7 55.8 51.2
802.3 55.8 51.2
803 70.0 51.2
803.7 55.8 51.2
806.3 56.4 51.4
807 73.5 51.4
807.7 56.4 51.6
810.3 56.6 51.8
811 68.0 51.8
811.7 56.6 52.0
814.3 57.0 52.2
815 72.5 52.2
815.7 57.0 52.4
818.3 57.4 52.6
819 75.5 52.6
819.7 57.4 52.6
822.3 56.8 52.4
823 69.0 52.4
823.7 56.8 52.2
826.3 56.4 52.0
827 73.0 52.0
827.7 56.4 51.8
830.3 56.0 51.6
831 66.5 51.6
831.7 56.0 51.4
835.3 55.8 51.3
836 71.0 51.3
836.7 55.8 51.4
839.3 55.6 51.4
840 69.5 51.4
840.7 55.6 51.3
844.3 55.2 51.2
845 72.5 51.2
845.7 55.2 51.0
848.3 55.0 50.9
849 68.0 50.9
849.7 55.0 50.8
852.3 55.6 51.0
853 71.5 51.0
853.7 55.6 51.4
856.3 57.0 51.6
857 74.0 51.6
857.7 57.0 52.0
860.3 57.5 52.6
861 80.0 52.6
861.7 57.5 52.6
863.3 57.0 52.4
864 76.0 52.4
864.7 57.0 52.2
866.3 56.4 52.0
867 78.5 52.0
867.7 56.4 51.6
870.3 55.6 51.2
871 74.5 51.2
871.7 55.6 51.0
874.3 56.2 51.2
875 79.5 51.2
875.7 56.2 51.5
877.3 57.4 51.8
878 82.0 51.8
878.7 57.4 52.2
881.3 58.5 52.8
882 75.0 52.8
882.7 58.5 53.4
885.3 60.5 54.5
886 80.0 54.5
886.7 60.5 54.8
887.5 82.7 55.0
888.2 60.5 55.0
890.3 58.0 53.4
891 76.5 53.4
891.7 58.0 53.0
894.3 57.6 52.8
895 79.0 52.8
895.7 57.6 52.8
898.3 58.8 53.6
899 78.0 53.6
899.7 58.8 53.8
902.3 57.0 52.4
903 74.5 52.4
903.7 57.0 52.0
905.8 56.4 51.8
906.5 82.0 51.8
907.2 56.4 51.6
909.3 56.0 51.4
910 78.5 51.4
910.7 56.0 51.2
913.3 55.6 51.0
914 75.5 51.0
914.7 55.6 50.8
917.3 55.4 50.6
918 77.0 50.6
918.7 55.4 50.6
921.3 57.5 51.0
922 73.5 51.0
922.7 57.5 51.8
924.8 61.0 54.5
925.5 77.0 54.5
926.2 61.0 54.0
928.8 57.0 52.0
929.5 78.0 52.0
930.2 57.0 51.8
933.3 56.4 51.6
934 72.0 51.6
934.7 56.4 51.4
936.3 56.2 51.2
937 78.0 51.2
937.7 56.2 51.0
940.3 56.0 50.9
941 71.0 50.9
941.7 56.0 50.8
944.3 55.8 50.6
945 74.5 50.6
945.7 55.8 50.4
948.3 55.6 50.2
949 68.5 50.2
949.7 55.6 50.1
952.3 55.2 50.0
953 72.0 50.0
953.7 55.2 49.8
956.3 55.0 49.6
957 66.5 49.6
957.7 55.0 49.5
960.3 54.6 49.6
961 70.0 49.6
961.7 54.6 49.6
963.3 55.4 49.8
964 75.5 50.0
964.7 56.0 50.4
966.3 57.0 50.8
967 73.0 50.8
967.7 57.0 51.2
968.8 57.2 51.2
969.5 75.0 51.4
970.2 57.5 51.8
972.3 58.0 52.2
973 72.5 52.2
973.7 58.0 52.5
976.3 58.2 52.8
977 75.5 52.8
977.7 58.2 52.8
979.3 57.6 52.4
980 73.0 52.4
980.7 57.6 52.0
983.3 56.0 51.4
984 72.2 51.4
984.7 56.0 50.4
987.3 55.0 49.9
988 68.0 49.9
988.7 55.0 49.8
991.3 55.0 49.9
992 66.0 49.9
992.7 55.0 50.0
996.3 55.6 50.4
997 64.5 50.4
997.7 55.6 50.6
1000.3 57.0 51.0
1001 77.0 51.0
1001.7 57.0 51.6
1003.3 57.0 51.8
1004 73.5 51.8
1004.7 57.0 51.6
1006.3 57.0 51.5
1007 77.7 51.5
1007.7 57.0 51.4
1009.3 56.8 51.4
1010 77.4 51.4
1010.7 56.8 51.4
1013.3 56.6 51.4
1014 74.0 51.4
1014.7 56.6 51.4
1017.3 57.0 51.6
1018 76.0 51.6
1018.7 57.0 51.8
1021.8 58.0 52.8
1022.5 81.0 53.0
1023.2 58.0 52.0
1025.3 55.0 50.8
1026 78.0 50.8
1026.7 55.0 50.2
1029.3 54.2 49.9
1030 68.0 49.9
1030.7 54.2 49.8
1034.3 54.0 49.6
1035 66.0 49.6
1035.7 54.0 49.5
1040.3 53.8 49.3
1041 69.4 49.3
1041.7 53.8 49.2
1045.3 53.8 49.2
1046 64.5 49.2
1046.7 53.8 49.2
1051.3 54.0 49.3
1052 66.0 49.3
1052.7 54.0 49.4
1058.3 54.2 49.6
1059 71.0 49.6
1059.7 54.2 49.7
1063.3 54.4 49.9
1064 63.5 49.9
1064.7 54.4 50.0
1067.3 54.6 50.1
1068 62.5 50.1
1068.7 54.6 50.2
1073.3 54.2 50.3
1074 65.0 50.3
1074.7 54.2 50.0
1077.3 53.8 49.6
1078 62.0 49.6
1078.7 53.8 49.5
1089.3 54.4 50.0
1090 61.5 50.0
1090.7 54.4 50.0
1096 55.0 50.4
1099 57.0 53.0
1099.7 57.2 54.0
1100.4 81.9 55.0
1101.1 57.5 54.0
1102 57.5 53.0
1104 55.0 50.2
1107.3 55.0 50.4
1108 61.0 50.4
1108.7 55.0 50.6
1112.3 55.2 50.8
1113 60.5 50.8
1113.7 55.2 50.8
1116.3 55.2 50.8
1117 61.0 50.8
1117.7 55.2 50.8
1134.8 55.4 51.2
1135.5 60.5 51.2
1136.2 55.4 51.2
1147.3 55.4 51.6
1148 59.5 51.6
1148.7 55.4 51.6
1160 55.8 51.8
1170 56.4 52.0
1173 58.0 53.5
1174.3 59.0 56.0
1175 84.7 57.0
1175.7 59.0 56.0
1177 59.0 55.0
1180 56.2 52.0
1195 56.0 52.0
1210 56.4 52.3
1220.3 57.4 52.8
1221 60.2 52.8
1221.7 57.4 53.0
1224 58.8 53.4
1226 57.2 53.2
1240 56.8 53.2
1257.3 57.4 54.0
1258 58.8 54.0
1258.7 57.4 54.0
1275 59.0 55.0
1290 59.4 55.6
1302 59.4 55.6
1304 62.0 56.0
1305.1 61.0 56.4
1305.8 82.7 56.5
1306.5 61.0 56.4
1307.8 61.0 56.3
1308.5 71.6 56.2
1309.2 59.2 55.6
1310 59.2 55.2
1320 58.6 54.9
1330.3 58.6 55.0
1331 63.3 55.0
1331.7 58.6 55.0
1350 59.0 55.4
1370 59.2 55.6
1390 59.8 56.3
1400 60.4 56.8
1401.3 61.0 57.2
1402 65.0 57.4
1402.7 61.5 57.6
1403.9 61.5 57.6
1404.6 81.6 57.6
1405.3 60.6 57.0
1415 59.8 56.2
1424 61.5 56.8
1424.6 61.5 57.0
1425.3 82.4 57.4
1426 61.0 57.0
1430 59.2 55.6
1439 59.2 55.6
}\env

\pgfplotsset{
  panel/.style={
    width=1142.35pt, height=252pt, scale only axis,
    xmin=0, xmax=1439.6, ymin=24, ymax=108,
    axis background/.style={fill=bgc},
    ytick={24,36,...,108}, minor y tick num=2,
    xtick={0,120,...,1320}, minor x tick num=3,
    tick align=outside, major tick length=3pt, minor tick length=2.5pt,
    grid=both,
    major grid style={gridc, line width=0.7pt},
    minor y grid style={gridc, dashed, line width=0.4pt},
    minor x grid style={mgridc, dotted, line width=0.45pt},
    axis line style={black, line width=0.9pt},
    tick style={black, line width=0.5pt},
    tick label style={font=\fontsize{3.8}{4}\selectfont},
    /pgf/number format/assume math mode=true,
    xtick pos=bottom, ytick pos=left,
    xlabel={time}, ylabel={dB SPL},
    label style={font=\fontsize{5.85}{6}\selectfont},
    xlabel style={at={(axis description cs:0.5,0)}, anchor=center, yshift=-16pt},
    ylabel style={at={(axis description cs:-0.0183,0.5)}, anchor=center},
    legend cell align=left,
    legend image code/.code={\draw[mark repeat=2,mark phase=2,##1] plot coordinates {(0cm,0cm) (0.2cm,0cm) (0.4cm,0cm)};},
  },
  rpanel/.style={
    width=1142.35pt, height=252pt, scale only axis,
    xmin=0, xmax=1439.6, ymin=24, ymax=108,
    xtick=\empty,
    ytick={24,36,...,108}, minor y tick num=2,
    ytick pos=right, yticklabel pos=right,
    tick align=outside, major tick length=3pt, minor tick length=2.5pt,
    axis line style={black, line width=0.9pt},
    tick style={black, line width=0.5pt},
    tick label style={font=\fontsize{3.8}{4}\selectfont},
    /pgf/number format/assume math mode=true,
    ylabel={dB SPL},
    label style={font=\fontsize{5.85}{6}\selectfont},
    ylabel style={at={(axis description cs:1.01646,0.5)}, anchor=center},
  },
  legbox/.style={at={(1,0)}, anchor=south east, xshift=-3pt, yshift=2.5pt,
    fill=bgc, draw=legedge, rounded corners=1.5pt, line width=0.5pt,
    font=\fontsize{4.8}{5}\selectfont, inner xsep=2.5pt, inner ysep=1.2pt,
    nodes={inner sep=0.4pt}, row sep=0.2pt,
    /tikz/every odd column/.append style={column sep=2.6pt},
    /tikz/every even column/.append style={column sep=7pt}},
}

\begin{document}
\begin{tikzpicture}
\path[use as bounding box] (0,0) rectangle (1200pt,600pt);
\node[anchor=base west, inner sep=0pt, font=\bfseries\fontsize{6.9}{7}\selectfont] at (12.5pt,588pt) {data from [421/mic0]};
\node[anchor=base west, inner sep=0pt, font=\bfseries\fontsize{6.9}{7}\selectfont] at (12.5pt,580.85pt) {starting point is [20240929\_000001]};
\node[anchor=base west, inner sep=0pt, font=\bfseries\fontsize{5.8}{6}\selectfont] at (29.65pt,562.5pt) {average and peak noise level (1 min sampling)};
\node[anchor=base west, inner sep=0pt, font=\bfseries\fontsize{5.8}{6}\selectfont] at (29.65pt,282pt) {average noise level (5 min with 15s min/max dB envelope)};

% ---------------- top panel ----------------
\begin{axis}[panel, at={(29.65pt,306pt)}, anchor=south west,
  xticklabels={00:00,02:00,04:00,06:00,08:00,10:00,12:00,14:00,16:00,18:00,20:00,22:00},
  legend columns=2, legend style={legbox},
]
\addplot[only marks, mark=+, mark size=0.9pt, cPZ, line width=0.3pt, forget plot] table[x=t,y=pz]{\peaks};
\addplot[only marks, mark=+, mark size=0.9pt, cPC, line width=0.3pt, forget plot] table[x=t,y=pc]{\peaks};
\addplot[only marks, mark=+, mark size=0.9pt, cPA, line width=0.3pt, forget plot] table[x=t,y=pa]{\peaks};
\addplot[cAZ, line width=0.7pt, forget plot] table[x=t,y=z]{\topavg};
\addplot[cAC, line width=0.7pt, forget plot] table[x=t,y=c]{\topavg};
\addplot[cAA, line width=0.7pt, forget plot] table[x=t,y=a]{\topavg};
\addlegendimage{only marks, mark=*, mark size=1.2pt, cPZ}
\addlegendentry{peak dB(Z)}
\addlegendimage{cAZ, line width=2pt}
\addlegendentry{avg dB(Z)}
\addlegendimage{only marks, mark=*, mark size=1.2pt, cPC}
\addlegendentry{peak dB(C)}
\addlegendimage{cAC, line width=2pt}
\addlegendentry{avg dB(C)}
\addlegendimage{only marks, mark=*, mark size=1.2pt, cPA}
\addlegendentry{peak dB(A)}
\addlegendimage{cAA, line width=2pt}
\addlegendentry{avg dB(A)}
\end{axis}
\begin{axis}[rpanel, at={(29.65pt,306pt)}, anchor=south west]
\addplot[draw=none, forget plot] table[x=t,y=z]{\topavg};
\end{axis}

% ---------------- bottom panel ----------------
\begin{axis}[panel, at={(29.65pt,25.5pt)}, anchor=south west,
  xticklabels={00:00:00,02:00:00,04:00:00,06:00:00,08:00:00,10:00:00,12:00:00,14:00:00,16:00:00,18:00:00,20:00:00,22:00:00},
  legend style={legbox}, legend image post style={line width=2pt},
]
\addplot[draw=none, forget plot, stack plots=y] table[x=t,y=lo]{\env};
\addplot[fill=cEnv, fill opacity=0.45, draw=cEnv, draw opacity=0.35, line width=0.3pt, forget plot, stack plots=y]
  table[x=t, y expr=\thisrow{hi}-\thisrow{lo}]{\env} \closedcycle;
\addplot[cZ, line width=0.75pt, stack plots=false] table[x=t,y=z]{\botavg};
\addlegendentry{dB(Z)}
\addplot[cC, line width=0.75pt, stack plots=false] table[x=t,y=c]{\botavg};
\addlegendentry{dB(C)}
\addplot[cA, line width=0.75pt, stack plots=false] table[x=t,y=a]{\botavg};
\addlegendentry{dB(A)}
\end{axis}
\begin{axis}[rpanel, at={(29.65pt,25.5pt)}, anchor=south west]
\addplot[draw=none, forget plot] table[x=t,y=z]{\botavg};
\end{axis}
\end{tikzpicture}
\end{document}
